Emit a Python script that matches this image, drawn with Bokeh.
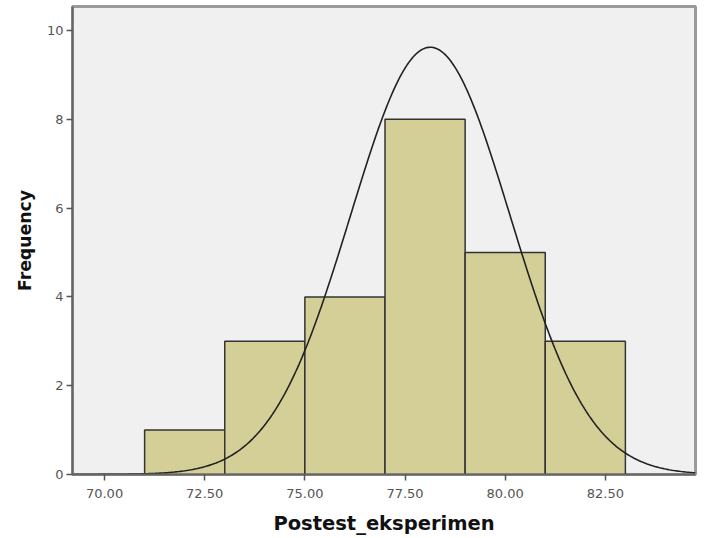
import numpy as np
from bokeh.plotting import figure
from bokeh.models import FixedTicker, Range1d, CustomJSTickFormatter
from bokeh.embed import file_html
from bokeh.resources import INLINE

# Histogram bins (Postest_eksperimen)
bin_left = [71, 73, 75, 77, 79, 81]
bin_right = [73, 75, 77, 79, 81, 83]
counts = [1, 3, 4, 8, 5, 3]

# Normal curve parameters (as SPSS reports)
mean_val = 78.13
sd_val = 1.99
n_total = sum(counts)
bin_width = 2

x_ticks = [70.0, 72.5, 75.0, 77.5, 80.0, 82.5]
y_ticks = [0, 2, 4, 6, 8, 10]

p = figure(width=705, height=538, output_backend="svg", toolbar_location=None,
           x_range=Range1d(69.2, 84.75), y_range=Range1d(0, 10.54),
           min_border_left=72, min_border_right=10, min_border_top=6, min_border_bottom=64)

p.background_fill_color = "#f0f0f0"
p.border_fill_color = "white"
p.outline_line_color = "#9a9a9a"
p.outline_line_width = 3
p.xgrid.visible = False
p.ygrid.visible = False

p.quad(left=bin_left, right=bin_right, bottom=0, top=counts,
       fill_color="#d4cf97", line_color="#333333", line_width=1.5)

xs = np.linspace(69.2, 84.75, 400)
ys = n_total * bin_width / (sd_val * np.sqrt(2 * np.pi)) * np.exp(-0.5 * ((xs - mean_val) / sd_val) ** 2)
p.line(xs, ys, line_color="#222222", line_width=1.6)

p.xaxis.ticker = FixedTicker(ticks=x_ticks)
p.xaxis.formatter = CustomJSTickFormatter(code="return tick.toFixed(2);")
p.yaxis.ticker = FixedTicker(ticks=y_ticks)
p.xaxis.minor_tick_line_color = None
p.yaxis.minor_tick_line_color = None

for ax in (p.xaxis, p.yaxis):
    ax.axis_line_color = "#666666"
    ax.axis_line_width = 2
    ax.major_tick_line_color = "#555555"
    ax.major_tick_line_width = 1.5
    ax.major_tick_in = 0
    ax.major_tick_out = 6
    ax.major_label_text_font = "DejaVu Sans"
    ax.major_label_text_font_size = "13px"
    ax.major_label_text_color = "#555555"
    ax.axis_label_text_font = "DejaVu Sans"
    ax.axis_label_text_font_style = "bold"
    ax.axis_label_text_color = "#111111"

p.xaxis.axis_label = "Postest_eksperimen"
p.yaxis.axis_label = "Frequency"
p.xaxis.axis_label_text_font_size = "19.5px"
p.yaxis.axis_label_text_font_size = "17.3px"
p.xaxis.major_label_standoff = 8
p.xaxis.axis_label_standoff = 11
p.yaxis.major_label_standoff = 3
p.yaxis.axis_label_standoff = 9

open("out.html", "w").write(file_html(p, INLINE))
